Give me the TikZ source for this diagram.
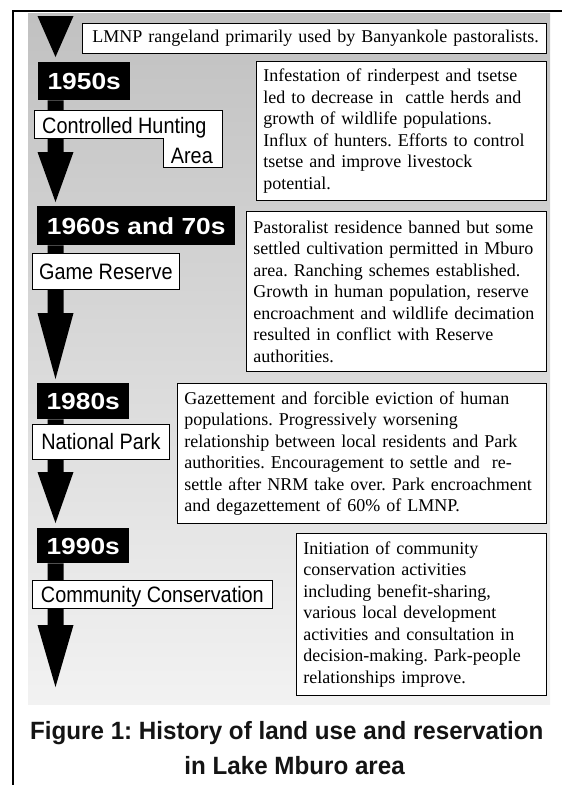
\documentclass[tikz,border=0pt]{standalone}
\usepackage{fontspec}
\setmainfont{Liberation Serif}
\newfontfamily\bodyfont{Liberation Serif}
\newfontfamily\yearfont{Liberation Sans}[FakeStretch=1.13]
\newfontfamily\namefont{Liberation Sans}[FakeStretch=0.89]
\newfontfamily\capfont{Liberation Sans}[FakeStretch=0.967]
\usetikzlibrary{calc}
\frenchspacing
\newcommand{\tline}[1]{\mbox{#1}}
\pgfdeclareverticalshading{bgshade}{100bp}{color(0bp)=(black!4); color(22bp)=(black!4); color(100bp)=(black!34)}
\newcommand{\timearrow}[3]{%
  \fill ([xshift=-8pt]#1) -- ([xshift=8pt]#1) -- ($(#2)+(8,-#3)$) -- ($(#2)+(18,-#3)$) -- (#2) -- ($(#2)+(-18,-#3)$) -- ($(#2)+(-8,-#3)$) -- cycle;}
\tikzset{
  yearbox/.style={fill=black, text=white, font=\fontsize{23.3}{26}\selectfont\yearfont\bfseries,
    inner sep=0pt, anchor=north west, text height=16.7pt, text depth=0pt},
  namebox/.style={draw=black, fill=white, line width=0.8pt, font=\fontsize{22.3}{26}\selectfont\namefont,
    inner sep=0pt, text height=16pt, text depth=0pt, anchor=north west},
  nametext/.style={font=\fontsize{22.3}{26}\selectfont\namefont, inner sep=0pt},
  desc/.style={draw=black, fill=white, line width=0.8pt, font=\fontsize{18}{21.5}\selectfont\bodyfont\frenchspacing,
    align=left, inner xsep=7pt, inner ysep=0pt, anchor=north west},
  capstyle/.style={font=\fontsize{25}{30}\selectfont\capfont\bfseries\frenchspacing, inner sep=0pt, text=black!92}
}
\begin{document}
\begin{tikzpicture}[x=1pt, y=-1pt]
\useasboundingbox (0,0) rectangle (562,785);
% background
\shade[shading=bgshade] (28,13) rectangle (550,704);
\draw[line width=2pt] (12.7,785) -- (12.7,10.7) -- (562,10.7);
% year boxes
\node[yearbox, minimum width=92pt, minimum height=38pt] (y50) at (38,62) {1950s};
\node[yearbox, minimum width=198pt, minimum height=39pt] (y60) at (37,206) {1960s and 70s};
\node[yearbox, minimum width=92pt, minimum height=36pt] (y80) at (37,383) {1980s};
\node[yearbox, minimum width=92pt, minimum height=35pt] (y90) at (37,528) {1990s};
% arrows
\fill (37.5,16) -- (73.5,16) -- ($(55.5,0 |- y50.north)+(0,-5)$) -- cycle;
\coordinate (s1) at (55.5,0 |- y50.south);
\coordinate (e1) at ($(55.5,0 |- y60.north)+(0,-4)$);
\coordinate (s2) at (55.5,0 |- y60.south);
\coordinate (e2) at ($(55.5,0 |- y80.north)+(0,-4)$);
\coordinate (s3) at (55.5,0 |- y80.south);
\coordinate (e3) at ($(55.5,0 |- y90.north)+(0,-5)$);
\coordinate (s4) at (55.5,0 |- y90.south);
\coordinate (e4) at (55.5,687);
\timearrow{s1}{e1}{50}
\timearrow{s2}{e2}{66}
\timearrow{s3}{e3}{51}
\timearrow{s4}{e4}{62}
% name boxes
\filldraw[fill=white, draw=black, line width=0.8pt] (34,110) -- (222,110) -- (222,167) -- (163,167) -- (163,138) -- (34,138) -- cycle;
\node[nametext, anchor=base west] (ch1) at (42,133) {Controlled Hunting};
\node[nametext, anchor=base east] (ch2) at (213,163) {Area};
\node[namebox, minimum width=147pt, minimum height=36pt] (gr) at (32,253) {Game Reserve};
\node[namebox, minimum width=137pt, minimum height=35pt] (np) at (32,424) {National Park};
\node[namebox, minimum width=240pt, minimum height=28pt] (cc) at (32,580) {Community Conservation};
% description boxes
\node[desc, inner xsep=10pt, text width=444pt, minimum width=464pt, minimum height=30pt] (d0) at (82,23)
  {\tline{LMNP rangeland primarily used by Banyankole pastoralists.}};
\node[desc, text width=276pt, minimum width=290pt, minimum height=139pt] (d1) at (256,61)
  {\tline{Infestation of rinderpest and tsetse}\\\tline{led to decrease in \ cattle herds and}\\\tline{growth of wildlife populations.}\\\tline{Influx of hunters. Efforts to control}\\\tline{tsetse and improve livestock}\\\tline{potential.}};
\node[desc, text width=286pt, minimum width=300pt, minimum height=160pt] (d2) at (246,211)
  {\tline{Pastoralist residence banned but some}\\\tline{settled cultivation permitted in Mburo}\\\tline{area. Ranching schemes established.}\\\tline{Growth in human population, reserve}\\\tline{encroachment and wildlife decimation}\\\tline{resulted in conflict with Reserve}\\\tline{authorities.}};
\node[desc, text width=355pt, minimum width=369pt, minimum height=140pt] (d3) at (177,383)
  {\tline{Gazettement and forcible eviction of human}\\\tline{populations. Progressively worsening}\\\tline{relationship between local residents and Park}\\\tline{authorities. Encouragement to settle and \ re-}\\\tline{settle after NRM take over. Park encroachment}\\\tline{and degazettement of 60\% of LMNP.}};
\node[desc, text width=236pt, minimum width=250pt, minimum height=162pt] (d4) at (296,533)
  {\tline{Initiation of community}\\\tline{conservation activities}\\\tline{including benefit-sharing,}\\\tline{various local development}\\\tline{activities and consultation in}\\\tline{decision-making. Park-people}\\\tline{relationships improve.}};
% caption
\node[capstyle, anchor=base west] (cap1) at (30,739) {Figure 1: History of land use and reservation};
\node[capstyle, anchor=base east] (cap2) at (405,774) {in Lake Mburo area};
\end{tikzpicture}
\end{document}
